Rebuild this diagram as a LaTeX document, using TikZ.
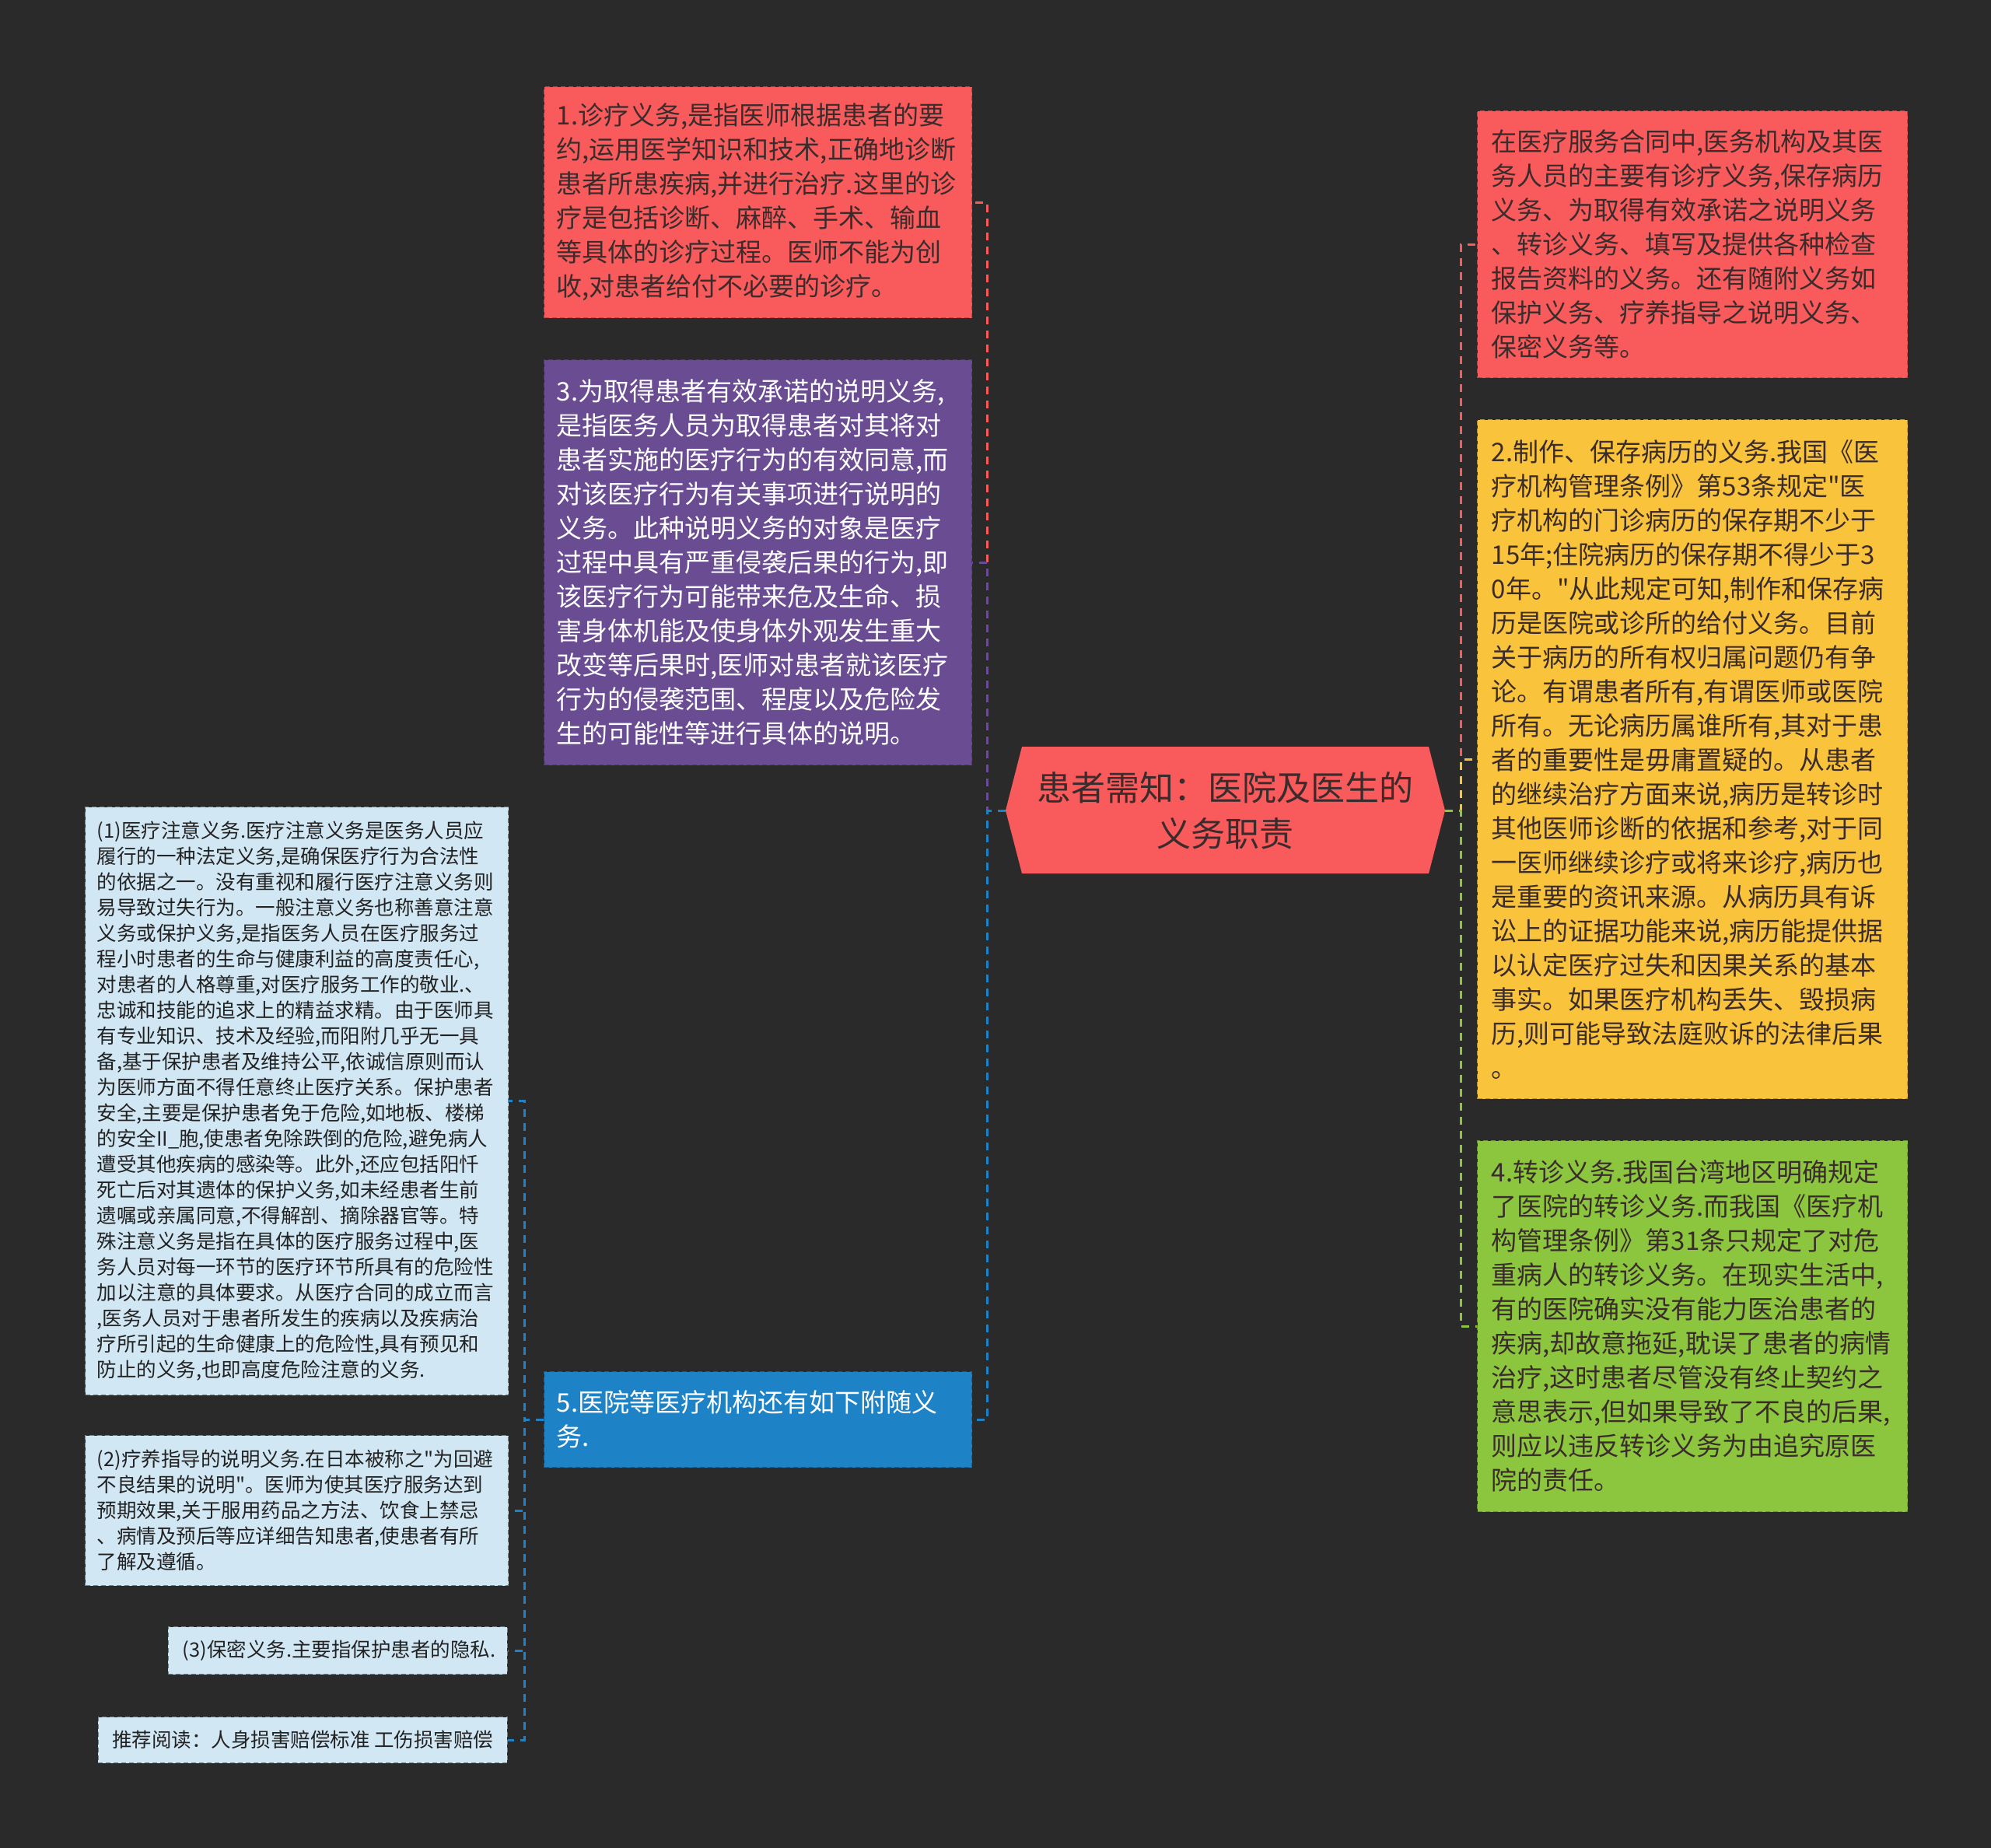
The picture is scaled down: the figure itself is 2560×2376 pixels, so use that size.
\documentclass[tikz,border=0pt]{standalone}
\usepackage{fontspec}
\setmainfont{Noto Sans CJK SC}[Ligatures=TeXOff]
\definecolor{bgc}{HTML}{2A2A2A}
\definecolor{cRed}{HTML}{F95A5B}
\definecolor{cPur}{HTML}{6A4C93}
\definecolor{cBlu}{HTML}{1E82C6}
\definecolor{cYel}{HTML}{FAC33C}
\definecolor{cGrn}{HTML}{8CC63F}
\definecolor{cLbl}{HTML}{D2E7F4}
\definecolor{cDark}{HTML}{3A2C2C}
\definecolor{cLblText}{HTML}{222222}
\newcommand\fbig{\fontsize{16.5pt}{22pt}\selectfont}
\newcommand\fsml{\fontsize{12.75pt}{16.5pt}\selectfont}
\newcommand\fctr{\fontsize{22pt}{29.5pt}\selectfont}
\begin{document}
\begin{tikzpicture}[x=0.5pt,y=-0.5pt,
  box/.style={rectangle, anchor=north west, draw=#1!75!black, fill=#1,
    dash pattern=on 3pt off 2pt, line width=0.7pt,
    inner xsep=8pt, inner ysep=0pt, align=left},
  lk/.style={draw=#1, line width=1.5pt, dash pattern=on 5pt off 4pt},
]
\fill[bgc] (0,0) rectangle (2560,2376);
\useasboundingbox (0,0) rectangle (2560,2376);

% centre
\fill[cRed] (1293,1042) -- (1314,960) -- (1837,960) -- (1858,1042) -- (1837,1123) -- (1314,1123) -- cycle;
\node[rectangle, minimum width=282.5pt, minimum height=81.5pt, inner sep=0pt,
  align=center, text=cDark, font=\fctr] (c) at (1575.5,1042)
  {患者需知：医院及医生的\\义务职责};

% left main children
\node[box=cRed, text=cDark, font=\fbig, text width=259pt, minimum height=148.5pt] (n1) at (699,111)
{1.诊疗义务,是指医师根据患者的要\\
约,运用医学知识和技术,正确地诊断\\
患者所患疾病,并进行治疗.这里的诊\\
疗是包括诊断、麻醉、手术、输血\\
等具体的诊疗过程。医师不能为创\\
收,对患者给付不必要的诊疗。};

\node[box=cPur, text=white, font=\fbig, text width=259pt, minimum height=260.5pt] (n3) at (699,462)
{3.为取得患者有效承诺的说明义务,\\
是指医务人员为取得患者对其将对\\
患者实施的医疗行为的有效同意,而\\
对该医疗行为有关事项进行说明的\\
义务。此种说明义务的对象是医疗\\
过程中具有严重侵袭后果的行为,即\\
该医疗行为可能带来危及生命、损\\
害身体机能及使身体外观发生重大\\
改变等后果时,医师对患者就该医疗\\
行为的侵袭范围、程度以及危险发\\
生的可能性等进行具体的说明。};

\node[box=cBlu, text=white, font=\fbig, text width=259pt, minimum height=61.5pt] (n5) at (699,1763)
{5.医院等医疗机构还有如下附随义\\
务.};

% right children
\node[box=cRed, text=cDark, font=\fbig, text width=258.5pt, inner xsep=9pt, minimum height=171.5pt] (r0) at (1899,142)
{在医疗服务合同中,医务机构及其医\\
务人员的主要有诊疗义务,保存病历\\
义务、为取得有效承诺之说明义务\\
、转诊义务、填写及提供各种检查\\
报告资料的义务。还有随附义务如\\
保护义务、疗养指导之说明义务、\\
保密义务等。};

\node[box=cYel, text=cDark, font=\fbig, text width=258.5pt, inner xsep=9pt, minimum height=436.5pt] (r2) at (1899,539)
{2.制作、保存病历的义务.我国《医\\
疗机构管理条例》第53条规定"医\\
疗机构的门诊病历的保存期不少于\\
15年;住院病历的保存期不得少于3\\
0年。"从此规定可知,制作和保存病\\
历是医院或诊所的给付义务。目前\\
关于病历的所有权归属问题仍有争\\
论。有谓患者所有,有谓医师或医院\\
所有。无论病历属谁所有,其对于患\\
者的重要性是毋庸置疑的。从患者\\
的继续治疗方面来说,病历是转诊时\\
其他医师诊断的依据和参考,对于同\\
一医师继续诊疗或将来诊疗,病历也\\
是重要的资讯来源。从病历具有诉\\
讼上的证据功能来说,病历能提供据\\
以认定医疗过失和因果关系的基本\\
事实。如果医疗机构丢失、毁损病\\
历,则可能导致法庭败诉的法律后果\\
。};

\node[box=cGrn, text=cDark, font=\fbig, text width=258.5pt, inner xsep=9pt, minimum height=238.5pt] (r4) at (1899,1466)
{4.转诊义务.我国台湾地区明确规定\\
了医院的转诊义务.而我国《医疗机\\
构管理条例》第31条只规定了对危\\
重病人的转诊义务。在现实生活中,\\
有的医院确实没有能力医治患者的\\
疾病,却故意拖延,耽误了患者的病情\\
治疗,这时患者尽管没有终止契约之\\
意思表示,但如果导致了不良的后果,\\
则应以违反转诊义务为由追究原医\\
院的责任。};

% sub children of 5
\node[box=cLbl, draw=cLbl!55!black, text=cLblText, font=\fsml, text width=257pt, inner xsep=7.5pt, minimum height=378pt] (l1) at (109,1037)
{(1)医疗注意义务.医疗注意义务是医务人员应\\
履行的一种法定义务,是确保医疗行为合法性\\
的依据之一。没有重视和履行医疗注意义务则\\
易导致过失行为。一般注意义务也称善意注意\\
义务或保护义务,是指医务人员在医疗服务过\\
程小时患者的生命与健康利益的高度责任心,\\
对患者的人格尊重,对医疗服务工作的敬业.、\\
忠诚和技能的追求上的精益求精。由于医师具\\
有专业知识、技术及经验,而阳附几乎无一具\\
备,基于保护患者及维持公平,依诚信原则而认\\
为医师方面不得任意终止医疗关系。保护患者\\
安全,主要是保护患者免于危险,如地板、楼梯\\
的安全II\_胞,使患者免除跌倒的危险,避免病人\\
遭受其他疾病的感染等。此外,还应包括阳忏\\
死亡后对其遗体的保护义务,如未经患者生前\\
遗嘱或亲属同意,不得解剖、摘除器官等。特\\
殊注意义务是指在具体的医疗服务过程中,医\\
务人员对每一环节的医疗环节所具有的危险性\\
加以注意的具体要求。从医疗合同的成立而言\\
,医务人员对于患者所发生的疾病以及疾病治\\
疗所引起的生命健康上的危险性,具有预见和\\
防止的义务,也即高度危险注意的义务.};

\node[box=cLbl, draw=cLbl!55!black, text=cLblText, font=\fsml, text width=257pt, inner xsep=7.5pt, minimum height=96.5pt] (l2) at (109,1845)
{(2)疗养指导的说明义务.在日本被称之"为回避\\
不良结果的说明"。医师为使其医疗服务达到\\
预期效果,关于服用药品之方法、饮食上禁忌\\
、病情及预后等应详细告知患者,使患者有所\\
了解及遵循。};

\node[box=cLbl, draw=cLbl!55!black, text=cLblText, font=\fsml, anchor=north east, align=right,
  text width=203pt, inner xsep=7.5pt, minimum height=30.5pt] (l3) at (653,2091)
{(3)保密义务.主要指保护患者的隐私.};

\node[box=cLbl, draw=cLbl!55!black, text=cLblText, font=\fsml, anchor=north east, align=center,
  minimum width=263pt, inner xsep=7.5pt, minimum height=29.5pt] (l4) at (653,2207)
{推荐阅读：人身损害赔偿标准 工伤损害赔偿};

% connectors: left
\draw[lk=cRed] (c.west) -- ++(-23,0) |- (n1.east);
\draw[lk=cPur] (c.west) -- ++(-23,0) |- (n3.east);
\draw[lk=cBlu] (c.west) -- ++(-23,0) |- (n5.east);
% right
\draw[lk=cRed] (c.east) -- ++(20,0) |- (r0.west);
\draw[lk=cYel] (c.east) -- ++(20,0) |- (r2.west);
\draw[lk=cGrn] (c.east) -- ++(20,0) |- (r4.west);
% sub
\draw[lk=cBlu] (n5.west) -- ++(-25,0) |- (l1.east);
\draw[lk=cBlu] (n5.west) -- ++(-25,0) |- (l2.east);
\draw[lk=cBlu] (n5.west) -- ++(-25,0) |- (l3.east);
\draw[lk=cBlu] (n5.west) -- ++(-25,0) |- (l4.east);
\end{tikzpicture}
\end{document}
